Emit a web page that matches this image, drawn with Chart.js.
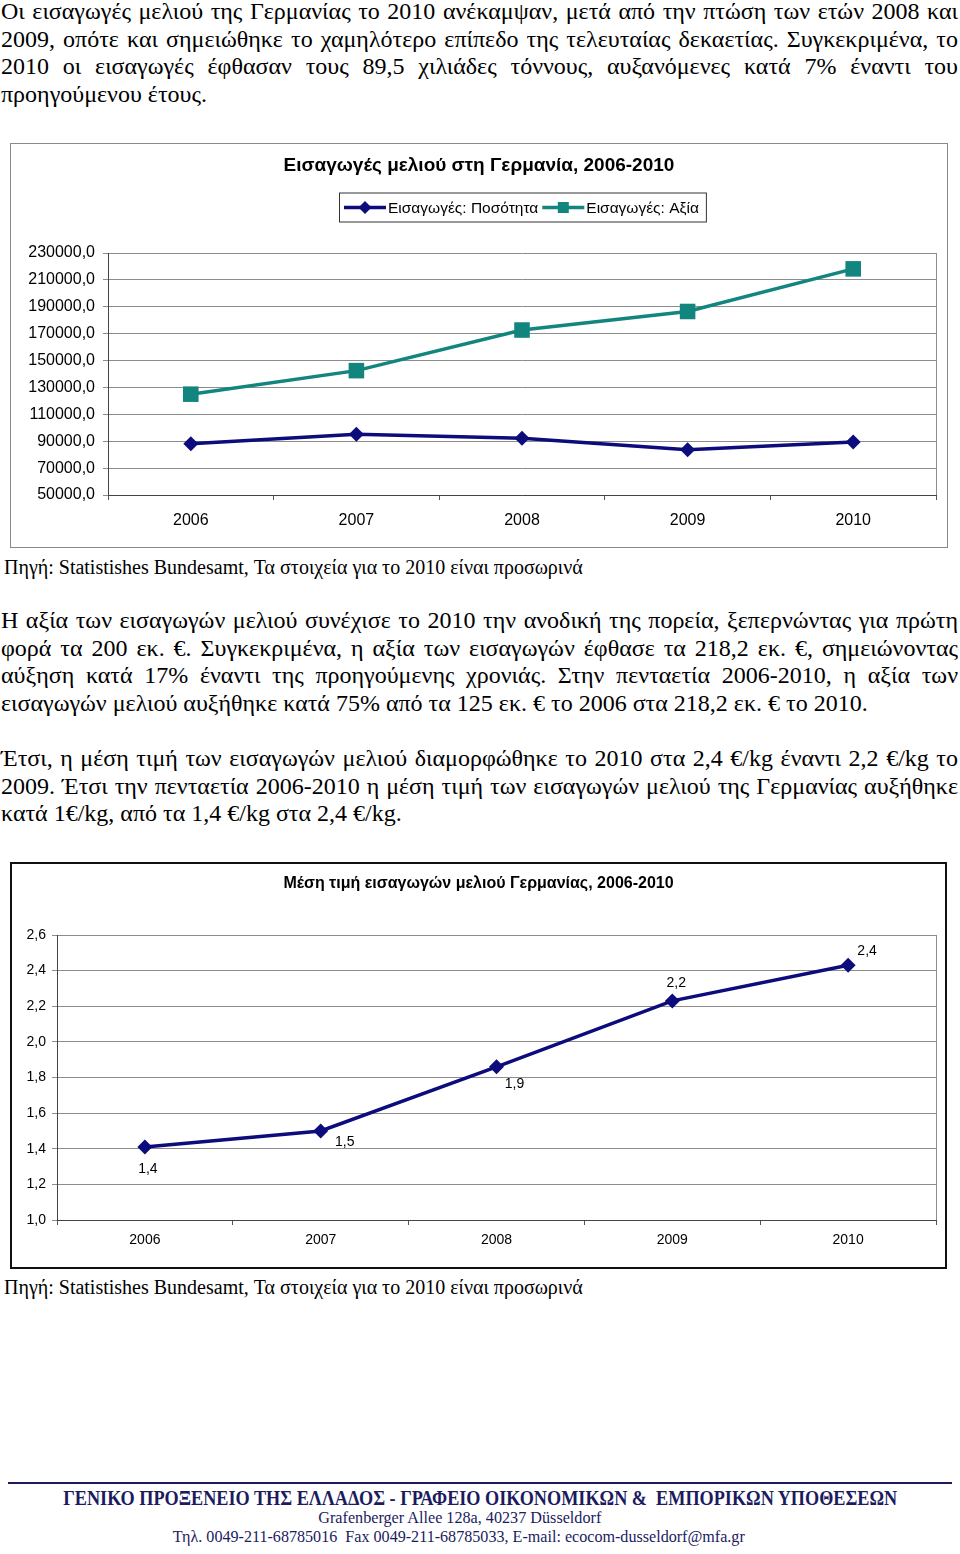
<!DOCTYPE html>
<html lang="el">
<head>
<meta charset="utf-8">
<title>Εισαγωγές μελιού Γερμανίας 2006-2010</title>
<script src="https://cdn.jsdelivr.net/npm/chart.js"></script>
<style>
body{margin:0;width:960px;height:1554px;position:relative;background:#fff;color:#000;overflow:hidden;font-family:"Liberation Serif","Times New Roman",serif}
.p{position:absolute;left:1px;width:957px;font-size:24px;line-height:27.7px}
.p .j{text-align:justify;text-align-last:justify}
.src{position:absolute;left:4px;font-size:20px;line-height:22px;white-space:nowrap}
.box1{position:absolute;left:10px;top:143px;width:938px;height:405px;border:1px solid #8a8a8a;box-sizing:border-box}
.box2{position:absolute;left:10px;top:862px;width:937px;height:407px;border:2px solid #111;box-sizing:border-box}
canvas{display:block}
.rule{position:absolute;left:8px;top:1482px;width:944px;height:2px;background:#1b1b5e}
.ft{position:absolute;left:0;width:960px;text-align:center;color:#1b1b5e;white-space:nowrap}
.ft span{display:inline-block;transform-origin:center}
</style>
</head>
<body>

<div class="p" style="top:-2px">
<div class="j">Οι εισαγωγές μελιού της Γερμανίας το 2010 ανέκαμψαν, μετά από την πτώση των ετών 2008 και</div>
<div class="j">2009, οπότε και σημειώθηκε το χαμηλότερο επίπεδο της τελευταίας δεκαετίας. Συγκεκριμένα, το</div>
<div class="j">2010 οι εισαγωγές έφθασαν τους 89,5 χιλιάδες τόννους, αυξανόμενες κατά 7% έναντι του</div>
<div>προηγούμενου έτους.</div>
</div>

<div class="box1"><canvas id="grafico1" width="936" height="403"></canvas></div>

<div class="src" style="top:556px">Πηγή: Statistishes Bundesamt, Τα στοιχεία για το 2010 είναι προσωρινά</div>

<div class="p" style="top:607px">
<div class="j">Η αξία των εισαγωγών μελιού συνέχισε το 2010 την ανοδική της πορεία, ξεπερνώντας για πρώτη</div>
<div class="j">φορά τα 200 εκ. €. Συγκεκριμένα, η αξία των εισαγωγών έφθασε τα 218,2 εκ. €, σημειώνοντας</div>
<div class="j">αύξηση κατά 17% έναντι της προηγούμενης χρονιάς. Στην πενταετία 2006-2010, η αξία των</div>
<div>εισαγωγών μελιού αυξήθηκε κατά 75% από τα 125 εκ. € το 2006 στα 218,2 εκ. € το 2010.</div>
</div>

<div class="p" style="top:745px">
<div class="j">Έτσι, η μέση τιμή των εισαγωγών μελιού διαμορφώθηκε το 2010 στα 2,4 €/kg έναντι 2,2 €/kg το</div>
<div class="j">2009. Έτσι την πενταετία 2006-2010 η μέση τιμή των εισαγωγών μελιού της Γερμανίας αυξήθηκε</div>
<div>κατά 1€/kg, από τα 1,4 €/kg στα 2,4 €/kg.</div>
</div>

<div class="box2"><canvas id="grafico2" width="933" height="403"></canvas></div>

<div class="src" style="top:1276px">Πηγή: Statistishes Bundesamt, Τα στοιχεία για το 2010 είναι προσωρινά</div>

<div class="rule"></div>
<div class="ft" style="top:1487px;font-size:20px;font-weight:bold;line-height:22px"><span data-w="834">ΓΕΝΙΚΟ ΠΡΟΞΕΝΕΙΟ ΤΗΣ ΕΛΛΑΔΟΣ - ΓΡΑΦΕΙΟ ΟΙΚΟΝΟΜΙΚΩΝ &amp;&nbsp; ΕΜΠΟΡΙΚΩΝ ΥΠΟΘΕΣΕΩΝ</span></div>
<div class="ft" style="top:1508px;font-size:17px;line-height:20px;left:-20px"><span data-w="283">Grafenberger Allee 128a, 40237 Düsseldorf</span></div>
<div class="ft" style="top:1527px;font-size:17px;line-height:20px;left:-21px"><span data-w="572">Τηλ. 0049-211-68785016&nbsp; Fax 0049-211-68785033, E-mail: ecocom-dusseldorf@mfa.gr</span></div>

<script>
// dados
var anos = ['2006', '2007', '2008', '2009', '2010']
var importacao_qtd = [88200, 95100, 92200, 83600, 89500]        // τόννοι
var importacao_valor = [125000, 142500, 172700, 186500, 218200] // χιλ. €
var preco_medio = [1.41, 1.50, 1.86, 2.23, 2.43]                // €/kg
var preco_rotulos = ['1,4', '1,5', '1,9', '2,2', '2,4']

var azul = '#0c0c7c'
var verde = '#13857f'
var fonte = '"Liberation Sans", Arial, sans-serif'

// condensed footer lines
document.querySelectorAll('.ft span').forEach(el => {
    var w = el.getBoundingClientRect().width
    el.style.transform = 'scaleX(' + (el.dataset.w / w) + ')'
})

function virgula(v, casas){
    return Number(v).toFixed(casas).replace('.', ',')
}

// empty right-hand spacer so the title stays centred on the whole chart
function espaco_direita(largura){
    return {
        type: 'linear',
        position: 'right',
        ticks: { display: false },
        grid: { display: false },
        border: { display: false },
        afterFit(s){ s.width = largura }
    }
}

// right border of plot area
const moldura = {
    id: 'moldura',
    beforeDatasetsDraw(chart){
        var a = chart.chartArea
        var ctx = chart.ctx
        ctx.save()
        ctx.strokeStyle = '#8c8c8c'
        ctx.lineWidth = 1
        ctx.beginPath()
        ctx.moveTo(Math.round(a.right) + 0.5, a.top)
        ctx.lineTo(Math.round(a.right) + 0.5, a.bottom)
        ctx.stroke()
        ctx.restore()
    }
}

// boxed legend with line + marker, centred over plot area
const legenda = {
    id: 'legenda',
    afterDraw(chart){
        var ctx = chart.ctx
        var a = chart.chartArea
        ctx.save()
        ctx.font = '15.5px ' + fonte
        var itens = chart.data.datasets.map(ds => ({
            label: ds.label, cor: ds.borderColor, estilo: ds.pointStyle,
            w: ctx.measureText(ds.label).width
        }))
        var linha = 42
        var largura = 5 + 7
        itens.forEach((it, i) => { largura += linha + 2 + it.w + (i < itens.length - 1 ? 4 : 0) })
        var cy = 63.5
        var x = Math.round((a.left + a.right) / 2 - largura / 2)
        ctx.strokeStyle = '#333'
        ctx.lineWidth = 1
        ctx.strokeRect(x + 0.5, cy - 14.5, largura, 29)
        x += 5
        itens.forEach(it => {
            ctx.strokeStyle = it.cor
            ctx.lineWidth = 3.5
            ctx.beginPath()
            ctx.moveTo(x, cy)
            ctx.lineTo(x + linha, cy)
            ctx.stroke()
            ctx.fillStyle = it.cor
            if (it.estilo == 'rect') {
                ctx.fillRect(x + linha / 2 - 5.5, cy - 5.5, 11, 11)
            } else {
                ctx.beginPath()
                ctx.moveTo(x + linha / 2 - 6.5, cy)
                ctx.lineTo(x + linha / 2, cy - 6.5)
                ctx.lineTo(x + linha / 2 + 6.5, cy)
                ctx.lineTo(x + linha / 2, cy + 6.5)
                ctx.closePath()
                ctx.fill()
            }
            x += linha + 2
            ctx.fillStyle = '#000'
            ctx.textBaseline = 'middle'
            ctx.textAlign = 'left'
            ctx.fillText(it.label, x, cy + 1)
            x += it.w + 4
        })
        ctx.restore()
    }
}

// value labels next to the points
const rotulos = {
    id: 'rotulos',
    afterDatasetsDraw(chart, args, opts){
        var ctx = chart.ctx
        var meta = chart.getDatasetMeta(0)
        ctx.save()
        ctx.font = '14px ' + fonte
        ctx.fillStyle = '#000'
        ctx.textAlign = 'center'
        ctx.textBaseline = 'middle'
        meta.data.forEach((p, i) => {
            var d = opts.deslocamento[i]
            ctx.fillText(opts.textos[i], p.x + d[0], p.y + d[1])
        })
        ctx.restore()
    }
}

function grafico_importacoes(){
    const ctx = document.getElementById('grafico1')
    new Chart(ctx, {
        type: 'line',
        data: {
            labels: anos,
            datasets: [{
                label: 'Εισαγωγές: Ποσότητα',
                data: importacao_qtd,
                borderColor: azul,
                backgroundColor: azul,
                borderWidth: 3.5,
                pointStyle: 'rectRot',
                pointRadius: 7.5,
                pointBorderWidth: 0,
                tension: 0
            }, {
                label: 'Εισαγωγές: Αξία',
                data: importacao_valor,
                borderColor: verde,
                backgroundColor: verde,
                borderWidth: 3.5,
                pointStyle: 'rect',
                pointRadius: 11,
                pointBorderWidth: 0,
                tension: 0
            }]
        },
        options: {
            responsive: false,
            animation: false,
            layout: { padding: 0 },
            plugins: {
                legend: { display: false },
                tooltip: { enabled: false },
                title: {
                    display: true,
                    text: 'Εισαγωγές μελιού στη Γερμανία, 2006-2010',
                    color: '#000',
                    font: { family: fonte, size: 19, weight: 'bold' },
                    padding: { top: 10.5, bottom: 75.7 }
                }
            },
            scales: {
                x: {
                    offset: true,
                    grid: { offset: true, drawOnChartArea: false, tickLength: 5, color: '#555' },
                    border: { color: '#444' },
                    ticks: { padding: 11, color: '#000', font: { family: fonte, size: 16 } },
                    afterFit(s){ s.height = 52 }
                },
                y: {
                    min: 50000,
                    max: 230000,
                    grid: { color: '#8c8c8c', tickLength: 5 },
                    border: { color: '#444' },
                    ticks: {
                        stepSize: 20000,
                        padding: 8,
                        color: '#000',
                        font: { family: fonte, size: 16 },
                        callback: v => virgula(v, 1)
                    },
                    afterFit(s){ s.width = 97 }
                },
                dir: espaco_direita(11)
            }
        },
        plugins: [moldura, legenda]
    })
}

function grafico_preco(){
    const ctx = document.getElementById('grafico2')
    new Chart(ctx, {
        type: 'line',
        data: {
            labels: anos,
            datasets: [{
                label: 'Μέση τιμή',
                data: preco_medio,
                borderColor: azul,
                backgroundColor: azul,
                borderWidth: 3.5,
                pointStyle: 'rectRot',
                pointRadius: 7.5,
                pointBorderWidth: 0,
                tension: 0
            }]
        },
        options: {
            responsive: false,
            animation: false,
            layout: { padding: 0 },
            plugins: {
                legend: { display: false },
                tooltip: { enabled: false },
                title: {
                    display: true,
                    text: 'Μέση τιμή εισαγωγών μελιού Γερμανίας, 2006-2010',
                    color: '#000',
                    font: { family: fonte, size: 16, weight: 'bold' },
                    padding: { top: 10.4, bottom: 41.4 }
                },
                rotulos: {
                    textos: preco_rotulos,
                    deslocamento: [[3, 22], [24, 11], [18, 17], [4, -18], [19, -14]]
                }
            },
            scales: {
                x: {
                    offset: true,
                    grid: { offset: true, drawOnChartArea: false, tickLength: 5, color: '#555' },
                    border: { color: '#444' },
                    ticks: { padding: 7, color: '#000', font: { family: fonte, size: 14 } },
                    afterFit(s){ s.height = 47 }
                },
                y: {
                    min: 1.0,
                    max: 2.6,
                    grid: { color: '#8c8c8c', tickLength: 5 },
                    border: { color: '#444' },
                    ticks: {
                        stepSize: 0.2,
                        padding: 6,
                        color: '#000',
                        font: { family: fonte, size: 14 },
                        callback: v => virgula(v, 1)
                    },
                    afterFit(s){ s.width = 45 }
                },
                dir: espaco_direita(9)
            }
        },
        plugins: [moldura, rotulos]
    })
}

grafico_importacoes()
grafico_preco()
</script>
</body>
</html>
